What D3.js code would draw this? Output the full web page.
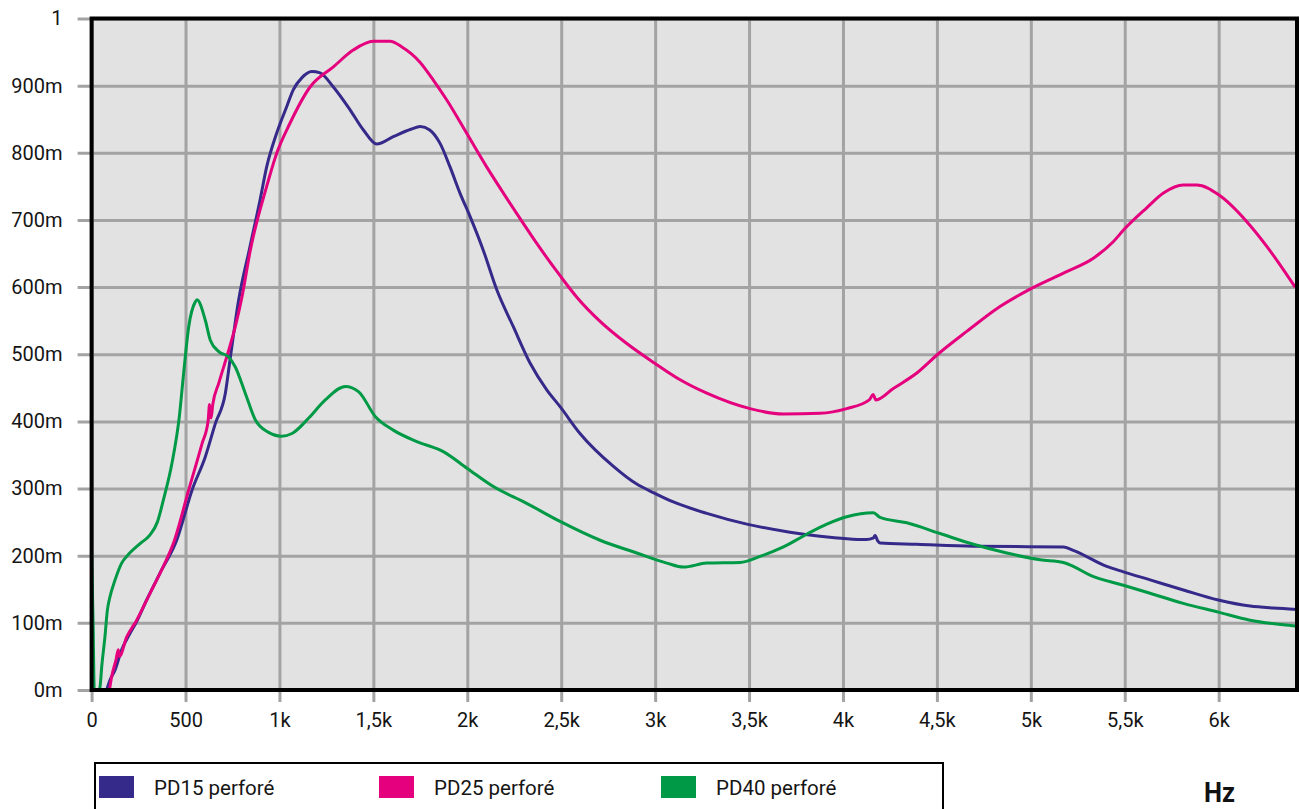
<!DOCTYPE html>
<html>
<head>
<meta charset="utf-8">
<script src="https://cdn.jsdelivr.net/npm/d3@7"></script>
<style>
  html, body { margin: 0; padding: 0; background: #fff; }
  svg { display: block; font-family: Roboto, "Noto Sans", sans-serif; }
</style>
</head>
<body>
<svg id="chart" width="1300" height="809"></svg>
<script>
// ---- data (frequency Hz, absorption) ----
const seriesNames = ["PD15 perforé", "PD25 perforé", "PD40 perforé"];
const seriesColors = ["#35298a", "#e5007d", "#009a46"];

const pd15 = [[80,0],[98,0.015],[125,0.030],[160,0.060],[204,0.084],[240,0.102],[293,0.134],[364,0.174],[453,0.223],[535,0.298],[605,0.347],[659,0.397],[712,0.442],[739,0.496],[783,0.581],[843,0.660],[897,0.730],[932,0.779],[985,0.829],[1039,0.869],[1074,0.894],[1120,0.912],[1172,0.921],[1216,0.919],[1287,0.898],[1376,0.864],[1447,0.834],[1518,0.813],[1606,0.824],[1700,0.835],[1750,0.839],[1800,0.834],[1855,0.814],[1908,0.779],[1961,0.740],[2015,0.705],[2085,0.655],[2157,0.596],[2245,0.541],[2334,0.487],[2423,0.447],[2494,0.422],[2600,0.382],[2778,0.333],[2900,0.307],[2990,0.294],[3097,0.280],[3275,0.263],[3488,0.247],[3718,0.235],[3878,0.229],[4126,0.224],[4160,0.226],[4171,0.230],[4185,0.222],[4197,0.219],[4393,0.217],[4694,0.214],[5173,0.213],[5226,0.208],[5404,0.184],[5493,0.176],[5635,0.164],[5812,0.149],[5998,0.134],[6167,0.125],[6291,0.122],[6417,0.120]];

const pd25 = [[95,0],[107,0.020],[130,0.045],[142,0.060],[148,0.050],[187,0.079],[240,0.104],[311,0.144],[382,0.184],[435,0.218],[517,0.298],[588,0.367],[620,0.400],[628,0.425],[636,0.405],[645,0.425],[677,0.457],[730,0.506],[765,0.541],[801,0.586],[845,0.655],[932,0.750],[985,0.799],[1056,0.844],[1163,0.898],[1287,0.928],[1393,0.953],[1500,0.966],[1589,0.966],[1650,0.958],[1748,0.935],[1820,0.908],[1890,0.879],[1997,0.829],[2103,0.779],[2192,0.740],[2298,0.695],[2370,0.665],[2494,0.617],[2583,0.585],[2707,0.549],[2849,0.516],[2996,0.487],[3133,0.462],[3275,0.442],[3505,0.419],[3683,0.411],[3878,0.412],[4020,0.419],[4140,0.432],[4160,0.440],[4175,0.432],[4268,0.449],[4393,0.472],[4505,0.500],[4659,0.534],[4836,0.571],[4996,0.597],[5191,0.623],[5333,0.643],[5440,0.668],[5497,0.686],[5617,0.718],[5706,0.740],[5812,0.752],[5883,0.752],[6002,0.737],[6151,0.697],[6258,0.660],[6407,0.600]];

const pd40 = [[0,0.205],[8,0.10],[14,0],[40,0],[45,0.005],[54,0.035],[71,0.079],[84,0.119],[98,0.139],[125,0.164],[160,0.189],[187,0.199],[258,0.218],[311,0.231],[350,0.250],[384,0.285],[428,0.338],[467,0.407],[490,0.472],[517,0.541],[552,0.578],[561,0.581],[605,0.551],[632,0.521],[677,0.504],[730,0.496],[765,0.481],[818,0.442],[872,0.402],[940,0.384],[1010,0.378],[1067,0.382],[1156,0.405],[1244,0.432],[1351,0.452],[1422,0.444],[1511,0.407],[1606,0.387],[1731,0.370],[1872,0.355],[2000,0.330],[2139,0.303],[2316,0.278],[2494,0.251],[2707,0.223],[2902,0.204],[3062,0.189],[3150,0.183],[3275,0.189],[3452,0.190],[3559,0.199],[3683,0.213],[3807,0.232],[3914,0.247],[4020,0.258],[4162,0.264],[4197,0.257],[4340,0.249],[4517,0.233],[4694,0.217],[4872,0.204],[5049,0.194],[5173,0.190],[5226,0.184],[5315,0.171],[5493,0.156],[5635,0.144],[5812,0.129],[5998,0.116],[6167,0.104],[6345,0.097],[6417,0.095]];

const xTickValues = [0,500,1000,1500,2000,2500,3000,3500,4000,4500,5000,5500,6000];
const xTickLabels = ["0","500","1k","1,5k","2k","2,5k","3k","3,5k","4k","4,5k","5k","5,5k","6k"];
const yTickValues = [0,0.1,0.2,0.3,0.4,0.5,0.6,0.7,0.8,0.9,1];
const yTickLabels = ["0m","100m","200m","300m","400m","500m","600m","700m","800m","900m","1"];
const unitLabel = "Hz";

// ---- layout ----
const L = 91.6, R = 1297, T = 18.5, B = 690;
const svg = d3.select("#chart");
const x = d3.scaleLinear().domain([0, 6417]).range([L, R]);
const y = d3.scaleLinear().domain([0, 1]).range([B, T]);

svg.append("rect").attr("x", L).attr("y", T).attr("width", R - L).attr("height", B - T).attr("fill", "#e2e2e2");

svg.append("defs").append("clipPath").attr("id", "clip")
  .append("rect").attr("x", L).attr("y", T).attr("width", R - L).attr("height", B - T);

// y axis with grid
const yAx = svg.append("g").attr("transform", `translate(${L - 14},0)`)
  .call(d3.axisLeft(y).tickValues(yTickValues)
    .tickFormat((d, i) => yTickLabels[i]).tickSize(-(R - L + 14)).tickPadding(15));
yAx.select(".domain").remove();
yAx.selectAll("line").attr("stroke", "#a3a3a3").attr("stroke-width", 3);
yAx.selectAll("text").attr("font-size", 20).attr("fill", "#151515")
  .attr("font-family", "Roboto, sans-serif");

// x axis with grid
const xAx = svg.append("g").attr("transform", `translate(0,${B + 12})`)
  .call(d3.axisBottom(x).tickValues(xTickValues)
    .tickFormat((d, i) => xTickLabels[i]).tickSize(-(B - T + 12)).tickPadding(11));
xAx.select(".domain").remove();
xAx.selectAll("line").attr("stroke", "#a3a3a3").attr("stroke-width", 3);
xAx.selectAll("text").attr("font-size", 20).attr("fill", "#151515")
  .attr("font-family", "Roboto, sans-serif");

// lines
const line = d3.line().x(d => x(d[0])).y(d => y(d[1])).curve(d3.curveMonotoneX);
const allSeries = [pd15, pd25, pd40];
const gLines = svg.append("g").attr("clip-path", "url(#clip)");
allSeries.forEach((s, i) => {
  gLines.append("path").datum(s).attr("d", line)
    .attr("fill", "none").attr("stroke", seriesColors[i])
    .attr("stroke-width", 3).attr("stroke-linejoin", "round");
});

// frame
svg.append("rect").attr("x", L).attr("y", T).attr("width", R - L).attr("height", B - T)
  .attr("fill", "none").attr("stroke", "#000").attr("stroke-width", 4);

// legend
const lg = svg.append("g");
lg.append("rect").attr("x", 95).attr("y", 763).attr("width", 848).attr("height", 60)
  .attr("fill", "#fff").attr("stroke", "#000").attr("stroke-width", 2);
const legendX = [99, 379, 661];
seriesNames.forEach((n, i) => {
  lg.append("rect").attr("x", legendX[i]).attr("y", 776).attr("width", 35).attr("height", 22)
    .attr("fill", seriesColors[i]);
  lg.append("text").attr("x", legendX[i] + 55).attr("y", 795).text(n)
    .attr("font-size", 20.5).attr("fill", "#151515");
});

svg.append("text").attr("x", 1204).attr("y", 802).text(unitLabel)
  .attr("font-size", 27).attr("font-weight", "bold").attr("fill", "#111")
  .attr("textLength", 31).attr("lengthAdjust", "spacingAndGlyphs");
</script>
</body>
</html>
